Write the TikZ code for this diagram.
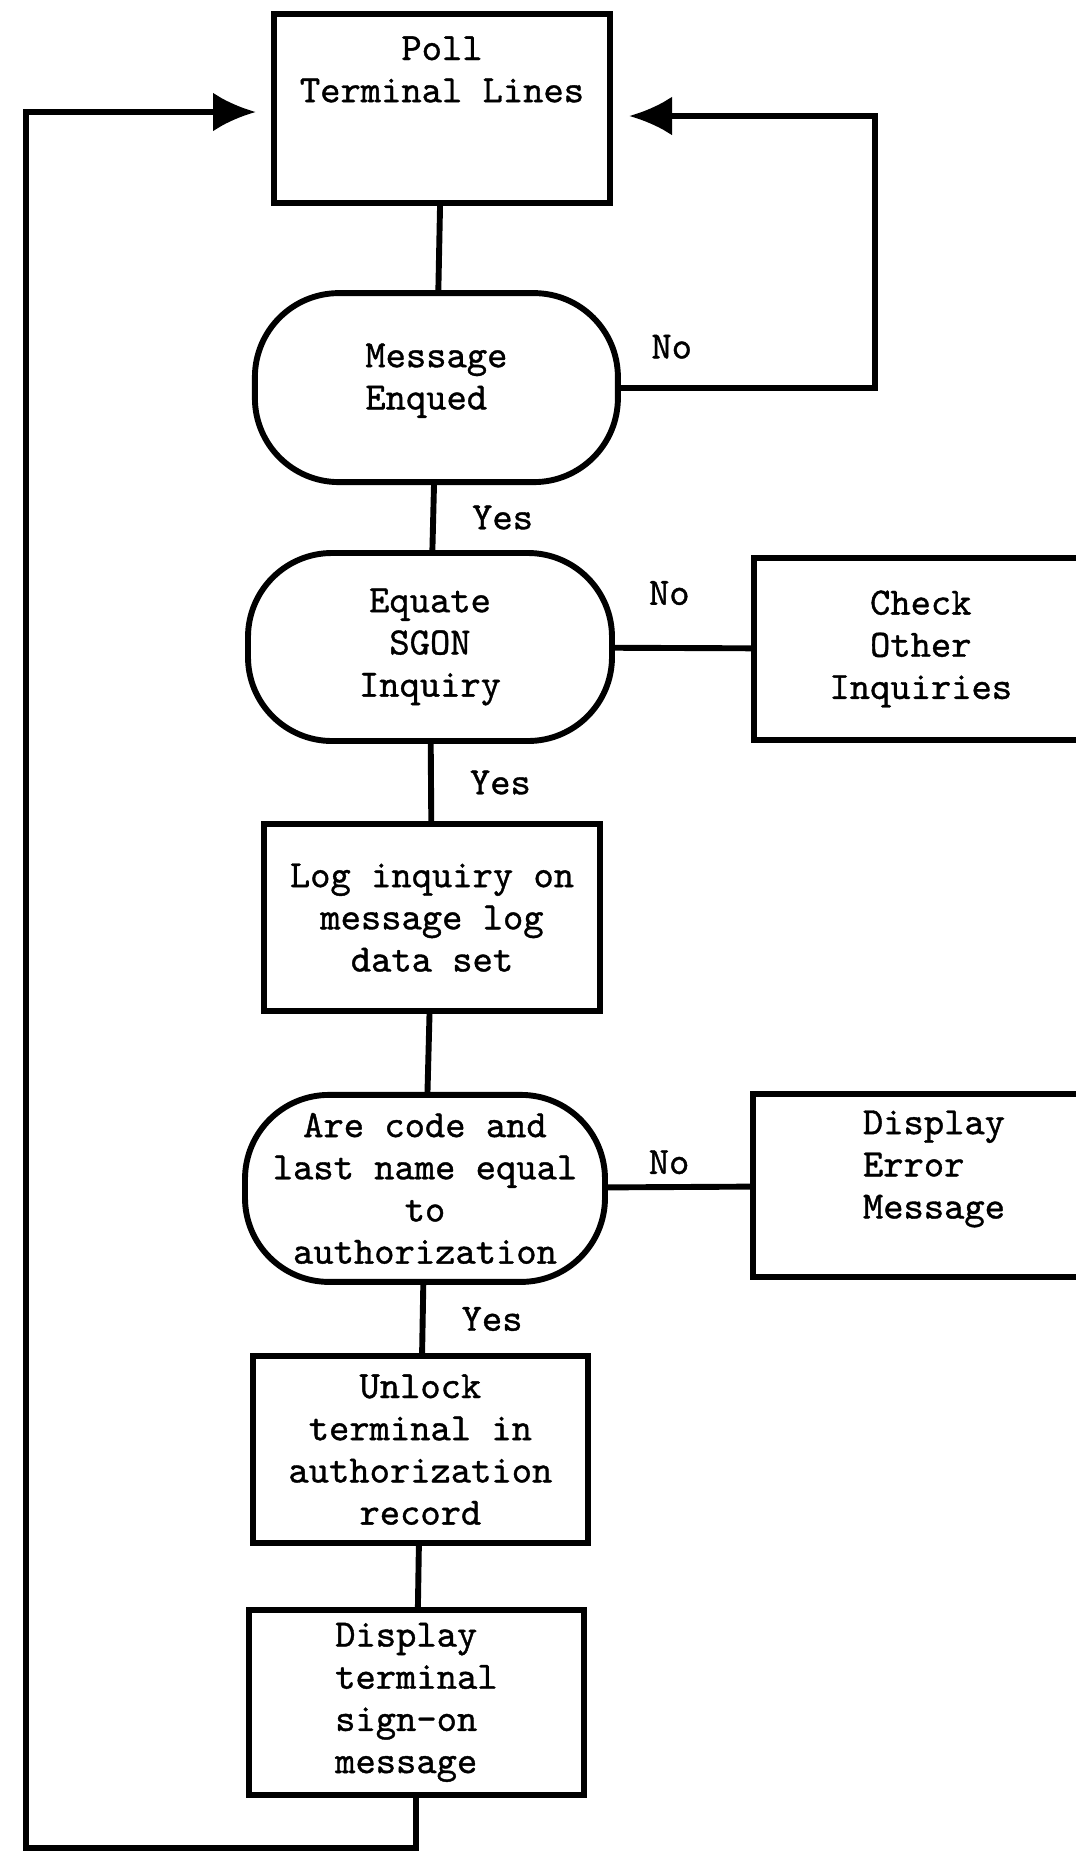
\documentclass[tikz,border=0pt]{standalone}
\usepackage{fontspec}
\setmonofont{lmmono10-regular.otf}[FakeBold=1]
\usepackage{tikz}
\usetikzlibrary{positioning,arrows.meta}

\begin{document}
\begin{tikzpicture}[
  every node/.style={font=\ttfamily\fontsize{27.5}{30}\selectfont},
  proc/.style={rectangle, draw=black, line width=4.2pt, minimum width=8.4cm,
               minimum height=4.7cm, align=center, inner sep=4pt},
  dec/.style={rectangle, rounded corners=2.1cm, draw=black, line width=4.2pt,
              minimum width=9.1cm, minimum height=4.7cm, align=center, inner sep=2pt},
  ln/.style={line width=4.2pt},
  arr/.style={-{Latex[length=1.075cm, width=0.975cm]}, line width=4.2pt},
  yeslbl/.style={right=0.9cm, inner sep=0pt},
  nolbl/.style={inner sep=0pt}
]
  \useasboundingbox (0,0) rectangle (26.9,-46.35);

  \node[proc, minimum height=4.725cm] (poll) at (11.05,-2.71) {Poll\\Terminal Lines\\[0.9cm]\mbox{}};
  \node[dec, minimum width=9.075cm, minimum height=4.725cm, align=left] (msg) at (10.91,-9.69) {Message\\Enqued\\[-0.5cm]\mbox{}};
  \node[dec] (eqt) at (10.75,-16.175) {Equate\\SGON\\Inquiry};
  \node[proc, minimum width=8.35cm, minimum height=4.55cm] (chk) at (23.02,-16.225) {Check\\Other\\Inquiries};
  \node[proc, minimum height=4.675cm] (log) at (10.8,-22.94) {Log inquiry on\\message log\\data set};
  \node[dec, minimum width=9.0cm, minimum height=4.675cm] (auth) at (10.625,-29.71) {Are code and\\last name equal\\to\\authorization};
  \node[proc, minimum width=9.05cm, minimum height=4.575cm, align=left] (err) at (23.35,-29.64) {Display\\Error\\Message\\\mbox{}};
  \node[proc, minimum width=8.375cm, minimum height=4.675cm] (unl) at (10.51,-36.24) {Unlock\\terminal in\\authorization\\record};
  \node[proc, minimum width=8.375cm, minimum height=4.625cm, align=left] (disp) at (10.41,-42.56) {Display\\terminal\\sign-on\\message};

  % loop ends
  \coordinate (rcorner) at (21.875,-2.9);
  \coordinate (rtip) at (15.725,-2.9);
  \coordinate (lcorner) at (0.65,-46.2);
  \coordinate (ltip) at (6.4,-2.8);

  \draw[ln] (poll) -- (msg);
  \draw[arr] (msg) -| node[nolbl, pos=0.1, above=0.65cm] {No} (rcorner) -- (rtip);
  \draw[ln] (msg) -- node[yeslbl] {Yes} (eqt);
  \draw[ln] (eqt) -- node[nolbl, pos=0.4, above=1.0cm] {No} (chk);
  \draw[ln] (eqt) -- node[yeslbl] {Yes} (log);
  \draw[ln] (log) -- (auth);
  \draw[ln] (auth) -- node[nolbl, pos=0.43, above=0.25cm] {No} (err);
  \draw[ln] (auth) -- node[yeslbl] {Yes} (unl);
  \draw[ln] (unl) -- (disp);
  \draw[arr] (disp) |- (lcorner) |- (ltip);
\end{tikzpicture}
\end{document}
